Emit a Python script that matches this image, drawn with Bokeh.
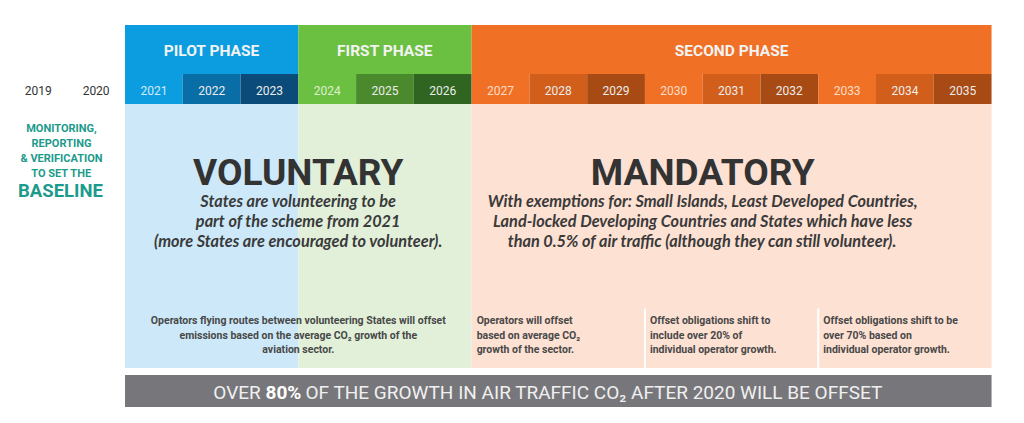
from bokeh.plotting import figure
from bokeh.models import Range1d
from bokeh.core.properties import value
from bokeh.embed import file_html
from bokeh.resources import INLINE

# ---------------- data ----------------
years = list(range(2019, 2036))
baseline_years = [2019, 2020]
phase_names = ["PILOT PHASE", "FIRST PHASE", "SECOND PHASE"]
phase_start = [2021, 2024, 2027]
phase_end = [2023, 2026, 2035]
phase_colors = ["#0c9de0", "#6bbf41", "#f07126"]
shade_mid = ["#0a6ea6", "#4a8a2d", "#d25e1b"]
shade_dark = ["#0b4b79", "#2f6521", "#a84a13"]
body_colors = ["#cde9f9", "#e2f0da", "#fde1d3"]
year_text_colors = ["#d2ebfa", "#dcefcf", "#fcdcc6"]

mrv_lines = ["MONITORING,", "REPORTING", "& VERIFICATION", "TO SET THE"]
mrv_big = "BASELINE"

mode_titles = ["VOLUNTARY", "MANDATORY"]
mode_centers = [2023.5, 2030.5]
mode_sub = [
    ["States are volunteering to be",
     "part of the scheme from 2021",
     "(more States are encouraged to volunteer)."],
    ["With exemptions for: Small Islands, Least Developed Countries,",
     "Land-locked Developing Countries and States which have less",
     "than 0.5% of air traffic (although they can still volunteer)."],
]

note_center = ["Operators flying routes between volunteering States will offset",
               "emissions based on the average CO\u2082 growth of the",
               "aviation sector."]
note_left_x = [2026.5, 2029.5, 2032.5]
notes_left = [
    ["Operators will offset", "based on average CO\u2082", "growth of the sector."],
    ["Offset obligations shift to", "include over 20% of", "individual operator growth."],
    ["Offset obligations shift to be", "over 70% based on", "individual operator growth."],
]
divider_x = [2029.5, 2032.5]

banner_pre = "OVER "
banner_bold = "80%"
banner_post = " OF THE GROWTH IN AIR TRAFFIC CO\u2082 AFTER 2020 WILL BE OFFSET"

# ---------------- layout helpers (pixel rows in image space) ----------------
COLW = 57.77
X0 = 37.85  # pixel centre of 2019 column


def X(px):
    return 2019 + (px - X0) / COLW


HEAD_T, HEAD_B = 24.5, 73.5
YR_T, YR_B = 73.5, 103.5
BODY_T, BODY_B = 103.5, 367.5
BAN_T, BAN_B = 374.5, 406.5

FONT = value("Roboto")
IFONT = value("Lato")

p = figure(width=1008, height=407, output_backend="svg", toolbar_location=None,
           x_range=Range1d(X(0), X(1008)), y_range=Range1d(407, 0),
           min_border=0, background_fill_color="white", border_fill_color="white",
           outline_line_color=None)
p.axis.visible = False
p.grid.visible = False

# phase headers
p.quad(left=[s - 0.5 for s in phase_start], right=[e + 0.5 for e in phase_end],
       top=HEAD_T, bottom=HEAD_B, fill_color=phase_colors, line_color=None)
# bodies
p.quad(left=[s - 0.5 for s in phase_start], right=[e + 0.5 for e in phase_end],
       top=BODY_T, bottom=BODY_B, fill_color=body_colors, line_color=None)

# year cells
cell_x, cell_c, cell_tc = [], [], []
for y in years:
    if y < 2021:
        continue
    pi = 0 if y <= 2023 else (1 if y <= 2026 else 2)
    k = (y - 2021) % 3
    cell_x.append(y)
    cell_c.append([phase_colors[pi], shade_mid[pi], shade_dark[pi]][k])
    cell_tc.append(year_text_colors[pi] if k == 0 else "#ececec")
p.quad(left=[x - 0.5 for x in cell_x], right=[x + 0.5 for x in cell_x],
       top=YR_T, bottom=YR_B, fill_color=cell_c, line_color=None)
p.text(x=cell_x, y=(YR_T + YR_B) / 2 + 1, text=[str(x) for x in cell_x],
       text_color=cell_tc, text_font=FONT, text_font_size="12px",
       text_align="center", text_baseline="middle")
p.text(x=baseline_years, y=(YR_T + YR_B) / 2 + 1, text=[str(x) for x in baseline_years],
       text_color="#333333", text_font=FONT, text_font_size="12px",
       text_align="center", text_baseline="middle")

# phase names
p.text(x=[(s + e) / 2 for s, e in zip(phase_start, phase_end)], y=(HEAD_T + HEAD_B) / 2 + 1,
       text=phase_names, text_color="#f3f3f3", text_font=FONT, text_font_size="15.5px",
       text_font_style="bold", text_align="center", text_baseline="middle")

# MRV text
p.text(x=X(61), y=[128, 143, 158, 173], text=mrv_lines, text_color="#1c9a8b",
       text_font=FONT, text_font_size="11px", text_font_style="bold",
       text_align="center", text_baseline="middle")
p.text(x=X(60), y=[190], text=[mrv_big], text_color="#1c9a8b",
       text_font=FONT, text_font_size="18.5px", text_font_style="bold",
       text_align="center", text_baseline="middle")

# mode titles and subtitles
p.text(x=mode_centers, y=172, text=mode_titles, text_color="#333333",
       text_font=FONT, text_font_size="37px", text_font_style="bold",
       text_align="center", text_baseline="middle")
for c, lines in zip(mode_centers, mode_sub):
    p.text(x=c, y=[200, 220, 240], text=lines, text_color="#3a3a3a",
           text_font=IFONT, text_font_size="16.3px", text_font_style="bold italic",
           text_align="center", text_baseline="middle")

# dividers
p.segment(x0=divider_x, x1=divider_x, y0=308, y1=BODY_B, line_color="white", line_width=2)

# notes
p.text(x=2023.5, y=[320, 334.5, 349], text=note_center, text_color="#484848",
       text_font=FONT, text_font_size="10.5px", text_font_style="bold",
       text_align="center", text_baseline="middle")
for xl, lines in zip(note_left_x, notes_left):
    p.text(x=xl, y=[320, 334.5, 349], text=lines, text_color="#484848", x_offset=5,
           text_font=FONT, text_font_size="10.5px", text_font_style="bold",
           text_align="left", text_baseline="middle")

# banner
p.quad(left=2020.5, right=2035.5, top=BAN_T, bottom=BAN_B, fill_color="#77777b", line_color=None)
by = (BAN_T + BAN_B) / 2 + 1
p.text(x=X(265), y=by, text=[banner_pre], text_color="#f0f0f0", text_font=FONT,
       text_font_size="19px", text_align="right", text_baseline="middle")
p.text(x=X(265), y=by, text=[banner_bold], text_color="#ffffff", text_font=FONT,
       text_font_size="19px", text_font_style="bold", text_align="left", text_baseline="middle")
p.text(x=X(305), y=by, text=[banner_post], text_color="#f0f0f0", text_font=FONT,
       text_font_size="19px", text_align="left", text_baseline="middle")

open("out.html", "w").write(file_html(p, INLINE))
